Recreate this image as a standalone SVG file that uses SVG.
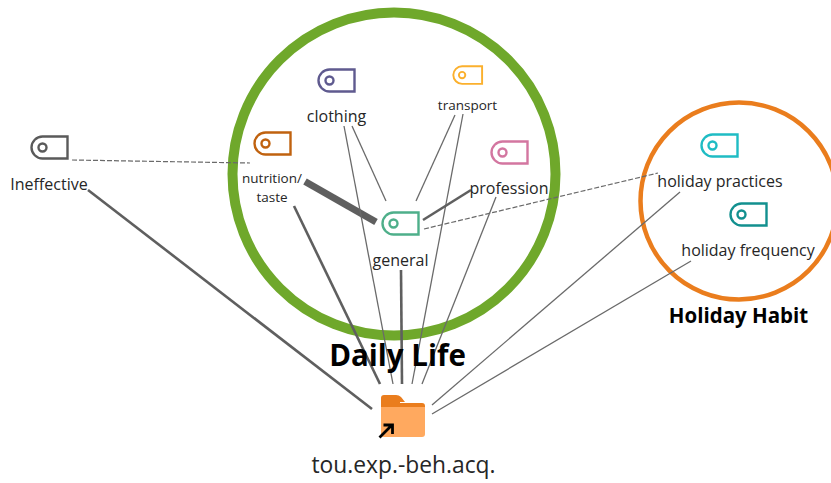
<svg xmlns="http://www.w3.org/2000/svg" xmlns:xlink="http://www.w3.org/1999/xlink" width="831" height="483" viewBox="0 0 831 483">
<style>
text{font-family:"Open Sans","Noto Sans","Liberation Sans",sans-serif;fill:#262626;text-anchor:middle}
.t{font-size:16px}
.s{font-size:13.500px}
.h{font-weight:700;fill:#000}
.tag{fill:none;stroke-width:2.4}
.l{stroke:#6a6a6a;fill:none;stroke-width:1.3}
.m{stroke:#5f5f5f;fill:none;stroke-width:2.6}
.d{stroke:#6a6a6a;fill:none;stroke-width:1.2;stroke-dasharray:5 2}
</style>
<defs>
<g id="tagIcon"><path d="M12 1H37V23H12C6 23 1 18 1 12S6 1 12 1Z"/><circle cx="12" cy="12" r="4"/></g>
</defs>
<rect width="831" height="483" fill="#fff"/>
<g id="circles" fill="none">
<circle id="daily-circle" cx="394" cy="174" r="161.500" stroke="#6fa82b" stroke-width="10"/>
<circle id="holiday-circle" cx="739" cy="201" r="98.500" stroke="#ea7d1d" stroke-width="4.500"/>
</g>
<g id="connectors">
<path class="m" d="M88 190L372 409"/>
<path class="d" d="M72 160L250 163"/>
<path d="M305 181.500L376 222" stroke="#5f5f5f" stroke-width="7" fill="none"/>
<path class="m" d="M294 206L380 384"/>
<path class="l" d="M352 126L386 201"/>
<path class="l" d="M344 126L393 384"/>
<path class="l" d="M455 115L416 201"/>
<path class="l" d="M463 114L412 384"/>
<path class="m" d="M401 270L402 384"/>
<path class="l" d="M496 197L422 384"/>
<path class="m" d="M423 220L471 190"/>
<path class="d" d="M424 229L658 173"/>
<path class="l" d="M680 192L432 405"/>
<path class="l" d="M691 261L432 414"/>
</g>
<g id="ineffective"><use xlink:href="#tagIcon" href="#tagIcon" class="tag" stroke="#5a5a5a" transform="translate(30.500,135.500)"/><text class="t" x="49" y="190">Ineffective</text></g>
<g id="nutrition"><use href="#tagIcon" class="tag" stroke="#c0620f" transform="translate(253.500,131.500)"/><text class="s" x="272" y="183">nutrition/</text><text class="s" x="272" y="202">taste</text></g>
<g id="clothing"><use href="#tagIcon" class="tag" stroke="#5f5a8f" transform="translate(317.500,68.500)"/><text class="t" x="336.500" y="122">clothing</text></g>
<g id="transport"><use href="#tagIcon" class="tag" stroke="#fbb02d" transform="translate(452.500,65.500) scale(.8)"/><text class="s" x="467.500" y="110">transport</text></g>
<g id="profession"><use href="#tagIcon" class="tag" stroke="#d376a0" transform="translate(490.500,140.500)"/><text class="t" x="509" y="194">profession</text></g>
<g id="general"><use href="#tagIcon" class="tag" stroke="#4eaf8a" transform="translate(381.500,211.500)"/><text class="t" x="400.500" y="266">general</text></g>
<g id="holiday-practices"><use href="#tagIcon" class="tag" stroke="#1fbcc4" transform="translate(700.500,133.500)"/><text class="t" x="720" y="187">holiday practices</text></g>
<g id="holiday-frequency"><use href="#tagIcon" class="tag" stroke="#12908f" transform="translate(729.500,202.500)"/><text class="t" x="748" y="256">holiday frequency</text></g>
<text id="daily-label" class="h" x="397.500" y="366" font-size="29.500">Daily Life</text>
<text id="holiday-label" class="h" x="738.500" y="323" font-size="20.500">Holiday Habit</text>
<g id="folder">
<path d="M384 395H396Q399 395 401 397L405 402H381V398Q381 395 384 395Z" fill="#ea7d1d"/>
<path d="M400 403H422Q425 403 425 406V407H381V402H400Z" fill="#ea7d1d"/>
<path d="M381 407H425V434Q425 437 422 437H384Q381 437 381 434Z" fill="#ffa95f"/>
<path d="M379.500 437.500L391 426M383.500 425H392.500V434" fill="none" stroke="#000" stroke-width="2.800"/>
<text x="403.500" y="473" font-size="22.800">tou.exp.-beh.acq.</text>
</g>
</svg>
